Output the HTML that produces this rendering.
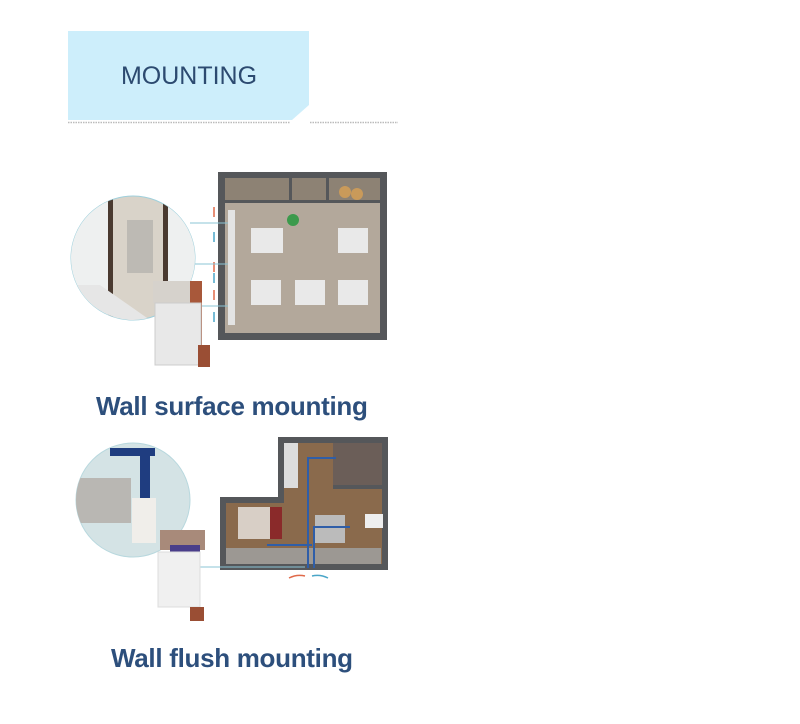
<!DOCTYPE html>
<html><head><meta charset="utf-8"><style>
body{margin:0;width:800px;height:724px;background:#fff;position:relative;overflow:hidden;font-family:"Liberation Sans",sans-serif}
.t{position:absolute;color:#2d4f7c;font-weight:bold;font-size:26px;letter-spacing:-0.3px;white-space:nowrap}
</style></head><body>
<svg width="800" height="724" style="position:absolute;left:0;top:0">
<polygon points="68,31 309,31 309,105 292,120 68,120" fill="#cdeefb"/>
<line x1="68" y1="122.5" x2="290" y2="122.5" stroke="#bbb" stroke-width="1.5" stroke-dasharray="1.5 1"/>
<line x1="310" y1="122.5" x2="398" y2="122.5" stroke="#bbb" stroke-width="1.5" stroke-dasharray="1.5 1"/>
<text x="189" y="84" text-anchor="middle" font-family="Liberation Sans" font-size="25" fill="#2c4a70">MOUNTING</text>

<!-- plan 1 -->
<rect x="218" y="172" width="169" height="168" fill="#55575a"/>
<rect x="225" y="178" width="155" height="155" fill="#b3a89b"/>
<rect x="225" y="178" width="155" height="22" fill="#8d8274"/>
<rect x="225" y="200" width="155" height="3" fill="#55575a"/>
<rect x="289" y="178" width="3" height="22" fill="#55575a"/>
<rect x="326" y="178" width="3" height="22" fill="#55575a"/>
<circle cx="345" cy="192" r="6" fill="#c99a5a"/><circle cx="357" cy="194" r="6" fill="#c99a5a"/>
<circle cx="293" cy="220" r="6" fill="#3c9a4c"/>
<g fill="#e9e9e9">
<rect x="251" y="228" width="32" height="25"/><rect x="338" y="228" width="30" height="25"/>
<rect x="251" y="280" width="30" height="25"/><rect x="295" y="280" width="30" height="25"/><rect x="338" y="280" width="30" height="25"/>
</g>
<rect x="228" y="210" width="7" height="115" fill="#e3e3e3"/>
<g stroke="#e06a4a" stroke-width="1.5" fill="none"><path d="M214 207v10M214 262v10M214 290v10"/></g>
<g stroke="#4aa6c8" stroke-width="1.5" fill="none"><path d="M214 232v10M214 273v10M214 312v10"/></g>
<line x1="190" y1="223" x2="228" y2="223" stroke="#8bc4d6"/>
<line x1="190" y1="264" x2="228" y2="264" stroke="#8bc4d6"/>
<line x1="190" y1="306" x2="228" y2="306" stroke="#8bc4d6"/>
<circle cx="133" cy="258" r="62" fill="#d9d3c9" stroke="#9fd0dc"/>
<clipPath id="c1"><circle cx="133" cy="258" r="62"/></clipPath>
<g clip-path="url(#c1)">
<rect x="70" y="196" width="40" height="125" fill="#eef0f0"/>
<rect x="108" y="196" width="5" height="125" fill="#4a3a30"/>
<rect x="165" y="196" width="30" height="125" fill="#eef0f0"/>
<rect x="163" y="196" width="5" height="125" fill="#4a3a30"/>
<rect x="127" y="220" width="26" height="53" fill="#bdbab4"/>
<polygon points="70,285 100,285 150,320 70,320" fill="#e6e6e6"/>
</g>
<rect x="153" y="281" width="45" height="22" fill="#d6d2cc"/>
<rect x="190" y="281" width="12" height="65" fill="#a8583a"/>
<rect x="155" y="303" width="46" height="62" fill="#e8e8e8" stroke="#ccc"/>
<rect x="198" y="345" width="12" height="22" fill="#9a4e34"/>

<!-- plan 2 -->
<polygon points="278,437 388,437 388,570 220,570 220,497 278,497" fill="#55575a"/>
<polygon points="284,443 382,443 382,564 226,564 226,503 284,503" fill="#8a6a4c"/>
<rect x="284" y="443" width="14" height="45" fill="#ddd"/>
<rect x="333" y="443" width="49" height="42" fill="#6b5e58"/>
<rect x="333" y="485" width="49" height="4" fill="#55575a"/>
<rect x="238" y="507" width="40" height="32" fill="#d8cfc6"/>
<rect x="270" y="507" width="12" height="32" fill="#8a2a2a"/>
<rect x="315" y="515" width="30" height="28" fill="#bbb"/>
<rect x="365" y="514" width="18" height="14" fill="#eee"/>
<rect x="226" y="548" width="155" height="16" fill="#9c9893"/>
<g stroke="#2f5ea8" stroke-width="2" fill="none">
<path d="M308 568V458h28M314 568V527h36M312 545h-45"/>
</g>
<path d="M289 578q8-4 16-2" stroke="#e06a4a" stroke-width="1.5" fill="none"/>
<path d="M312 576q8-2 16 2" stroke="#4aa6c8" stroke-width="1.5" fill="none"/>
<line x1="200" y1="567" x2="305" y2="567" stroke="#8bc4d6"/>
<circle cx="133" cy="500" r="57" fill="#d4e3e5" stroke="#b8d8de"/>
<clipPath id="c2"><circle cx="133" cy="500" r="57"/></clipPath>
<g clip-path="url(#c2)">
<rect x="76" y="478" width="55" height="45" fill="#b9b7b3"/>
<rect x="110" y="448" width="45" height="8" fill="#1f3d80"/>
<rect x="140" y="448" width="10" height="50" fill="#1f3d80"/>
<rect x="132" y="498" width="24" height="45" fill="#f0eeea"/>
</g>
<rect x="160" y="530" width="45" height="20" fill="#a88a7a"/>
<rect x="170" y="545" width="30" height="8" fill="#4a3e8a"/>
<rect x="158" y="552" width="42" height="55" fill="#f0f0f0" stroke="#ddd"/>
<rect x="190" y="607" width="14" height="14" fill="#9a4e34"/>
</svg>
<div class="t" style="left:96px;top:391px">Wall surface mounting</div>
<div class="t" style="left:111px;top:643px">Wall flush mounting</div>
</body></html>
